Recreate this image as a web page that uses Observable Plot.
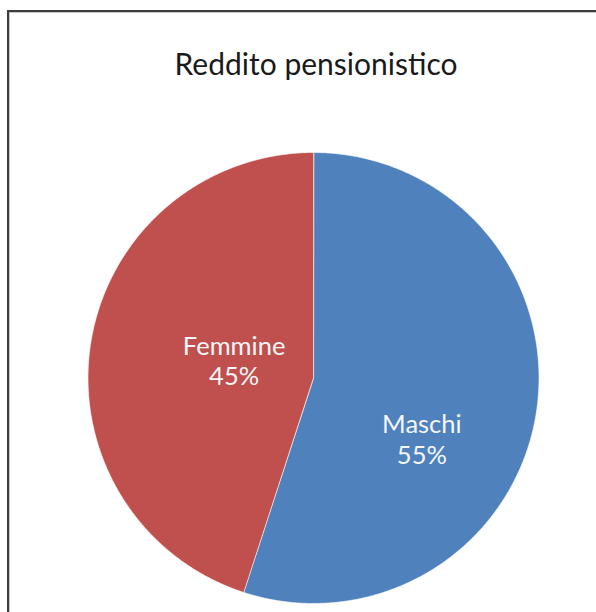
<!DOCTYPE html>
<html><head><meta charset="utf-8">
<script src="https://cdn.jsdelivr.net/npm/d3@7"></script>
<script src="https://cdn.jsdelivr.net/npm/@observablehq/plot@0.6"></script>
<style>
html,body{margin:0;padding:0;background:#fff;overflow:hidden;width:596px;height:612px}
#frame{position:absolute;left:7px;top:10px;width:600px;height:620px;border-left:2px solid #3c3c3c;border-top:2px solid #3c3c3c;box-shadow:inset 1px 1px 0 #c8c8c8}
#title{position:absolute;left:0;width:632px;top:48px;text-align:center;font-family:Lato,sans-serif;font-size:30px;line-height:30px;color:#1a1a1a;white-space:nowrap}
#chart{position:absolute;left:0;top:0}
</style></head><body>
<div id="frame"></div>
<div id="title">Reddito pensionistico</div>
<div id="chart"></div>
<script>
const categories = ["Maschi", "Femmine"];
const shares = [55, 45];
const percentLabels = ["55%", "45%"];
const colors = ["#4F81BD", "#C0504D"];

const total = d3.sum(shares);
let acc = 0;
const slices = categories.map((c, i) => {
  const a0 = acc / total * 2 * Math.PI;
  acc += shares[i];
  const a1 = acc / total * 2 * Math.PI;
  return {category: c, share: shares[i], label: percentLabels[i], a0, a1, mid: (a0 + a1) / 2};
});
function arcPoints(a0, a1) {
  const n = Math.max(2, Math.ceil((a1 - a0) / (Math.PI / 360)));
  const pts = [];
  for (let k = 0; k <= n; k++) {
    const a = a0 + (a1 - a0) * k / n;
    pts.push([Math.sin(a), -Math.cos(a)]);
  }
  return pts;
}
const features = slices.map(s => ({
  type: "Feature",
  properties: s,
  geometry: {type: "Polygon", coordinates: [[[0, 0], ...arcPoints(s.a0, s.a1), [0, 0]]]}
}));
const outline = {type: "Polygon", coordinates: [arcPoints(0, 2 * Math.PI)]};

const labelMark = (name, dx, dy) => Plot.text(slices.filter(s => s.category === name), {
  x: s => 0.5 * Math.sin(s.mid),
  y: s => -0.5 * Math.cos(s.mid),
  text: s => s.category + "\n" + s.label,
  fill: "#f4f6fa",
  fontSize: 25.5,
  fontFamily: "Lato, sans-serif",
  lineHeight: 1.2,
  dx, dy
});

const chart = Plot.plot({
  width: 596,
  height: 612,
  marginLeft: 87.5,
  marginRight: 57.5,
  marginTop: 152,
  marginBottom: 9,
  projection: {type: "identity", domain: outline},
  color: {domain: categories, range: colors},
  marks: [
    Plot.geo(features, {fill: d => d.properties.category, stroke: "#ffffff", strokeWidth: 1, strokeOpacity: 0.6}),
    labelMark("Maschi", -3, 43),
    labelMark("Femmine", 32, 0)
  ]
});
document.getElementById("chart").appendChild(chart);
</script>
</body></html>
